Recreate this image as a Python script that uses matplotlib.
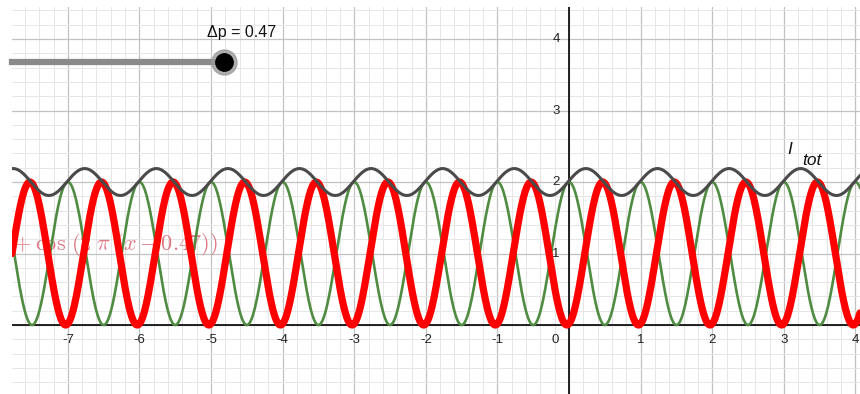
import numpy as np
import matplotlib
matplotlib.use("Agg")
import matplotlib.pyplot as plt
from matplotlib.lines import Line2D

# slider value and the visible window
delta_p = 0.47
x_min, x_max = -7.78, 4.064
y_min, y_max = -0.965, 4.448
x_ticks = [-7, -6, -5, -4, -3, -2, -1, 1, 2, 3, 4]
y_ticks = [-1, 1, 2, 3, 4]

x = np.linspace(x_min, x_max, 3000)
green = 1 + np.cos(2 * np.pi * x)
red = 1 + np.cos(2 * np.pi * (x - delta_p))
i_tot = green + red

plt.rcParams["font.family"] = ["Liberation Sans", "DejaVu Sans"]
plt.rcParams["mathtext.fontset"] = "cm"

W, H = 860, 394
fig = plt.figure(figsize=(W / 100, H / 100), dpi=100)
ax = fig.add_axes([12 / W, 0, 848 / W, 387 / H])

# grid: major every unit, minor every 0.2
ax.set_xticks(np.arange(-8, 5, 1))
ax.set_yticks(np.arange(-1, 5, 1))
ax.set_xticks(np.arange(-8, 5, 0.2), minor=True)
ax.set_yticks(np.arange(-1, 5, 0.2), minor=True)
ax.set_xlim(x_min, x_max)
ax.set_ylim(y_min, y_max)
ax.grid(which="major", color="#c2c2c2", lw=0.9)
ax.grid(which="minor", color="#e6e6e6", lw=0.7)
ax.tick_params(which="both", length=0, labelbottom=False, labelleft=False)
ax.set_axisbelow(True)
for s in ax.spines.values():
    s.set_visible(False)

ax.axhline(0, color="black", lw=1.2, zorder=2)
ax.axvline(0, color="black", lw=1.2, zorder=2)

for k in x_ticks:
    ax.text(k, -0.21, str(k), ha="center", va="center", fontsize=9.5, color="#222222")
ax.text(-0.195, -0.21, "0", ha="center", va="center", fontsize=9.5, color="#222222")
for k in y_ticks:
    yk = k - 0.05 if k < 0 else k
    ax.text(-0.18, yk, str(k), ha="center", va="center", fontsize=9.5, color="#222222",
            clip_on=True)

# formula label, partly off the left edge
ax.text((217 - 569) / 71.6, 1.12, r"$f(x) = 1 + \cos\,(2\;\pi\;(x - 0.47))$",
        ha="right", va="center", fontsize=16, color="#d24e5e", alpha=0.75,
        clip_on=True, zorder=1)

ax.plot(x, green, color="#4f8c42", lw=1.9, zorder=3)
ax.plot(x, red, color="#ff0000", lw=5.2, zorder=4, solid_capstyle="round")
ax.plot(x, i_tot, color="#4a4a4a", lw=2.2, zorder=5)

ax.text(3.05, 2.39, "I", fontsize=12.5, style="italic", color="#111111", va="baseline")
ax.text(3.25, 2.24, "tot", fontsize=12.5, style="italic", color="#111111", va="baseline")

# slider widget
fig.add_artist(Line2D([12 / W, 224 / W], [1 - 62 / H, 1 - 62 / H],
                      color="#8a8a8a", lw=4.5, transform=fig.transFigure))
fig.add_artist(Line2D([224 / W], [1 - 62 / H], marker="o", ms=18,
                      color="#9a9a9a", alpha=0.8, transform=fig.transFigure))
fig.add_artist(Line2D([224 / W], [1 - 62 / H], marker="o", ms=12.5,
                      color="black", transform=fig.transFigure))
fig.text(207 / W, 1 - 33 / H, "\u0394p = " + str(delta_p), fontsize=11.5,
         va="center", ha="left", color="#111111")

fig.savefig("out.png", dpi=100, facecolor="white")
